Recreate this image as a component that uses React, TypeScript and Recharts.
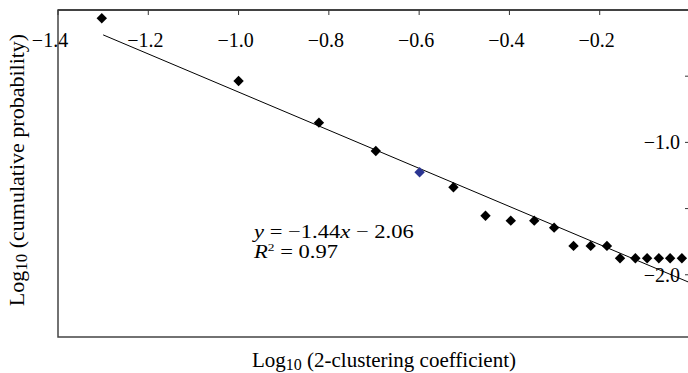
import React from 'react';
import { ScatterChart, Scatter, XAxis, YAxis, ReferenceArea, ReferenceLine } from 'recharts';

// Log10 (2-clustering coefficient) values of the plotted points
const clusteringLog = [-1.303, -1.0, -0.822, -0.696, -0.524, -0.453, -0.397, -0.345, -0.301, -0.258, -0.22, -0.184, -0.155, -0.121, -0.095, -0.069, -0.044, -0.018];
// Log10 (cumulative probability) values of the plotted points
const cumulativeLog = [-0.062, -0.536, -0.851, -1.065, -1.339, -1.554, -1.591, -1.591, -1.644, -1.782, -1.782, -1.782, -1.875, -1.875, -1.875, -1.875, -1.875, -1.875];
// the single highlighted (blue) point
const highlightX = [-0.599];
const highlightY = [-1.226];
// trend line y = -1.44x - 2.06 endpoints
const trendX = [-1.3, 0];
const trendY = [-0.188, -2.06];

const xTicks = [-1.4, -1.2, -1.0, -0.8, -0.6, -0.4, -0.2];
const yTicks = [-0.5, -1.0, -1.5, -2.0];
const yLabeled = [-1.0, -2.0];

const points = clusteringLog.map((x, i) => ({ x, y: cumulativeLog[i] }));
const highlight = highlightX.map((x, i) => ({ x, y: highlightY[i] }));
const trend = trendX.map((x, i) => ({ x, y: trendY[i] }));

const FONT = '"Liberation Serif", "Times New Roman", serif';
const fmt = (v: number) => (v < 0 ? '\u2212' : '') + Math.abs(v).toFixed(1);

const Diamond = (props: any) => {
  const { cx, cy, fill } = props;
  if (cx == null || cy == null) return null;
  const r = 5.2;
  return <path d={`M${cx},${cy - r}L${cx + r},${cy}L${cx},${cy + r}L${cx - r},${cy}Z`} fill={fill} />;
};

const XTick = (props: any) => {
  const { x, y, payload } = props;
  const shift = payload.value === -1.4 ? -8 : -3;
  return (
    <text x={x + shift} y={y + 32} textAnchor="middle" fontFamily={FONT} fontSize={20} fill="#000">
      {fmt(payload.value)}
    </text>
  );
};

const YTick = (props: any) => {
  const { x, y, payload } = props;
  if (!yLabeled.includes(payload.value)) return null;
  return (
    <text x={x} y={y + 7} textAnchor="end" fontFamily={FONT} fontSize={20} fill="#000">
      {fmt(payload.value)}
    </text>
  );
};

export default function App() {
  return (
    <div style={{ position: 'fixed', left: 0, top: 0, width: 688, height: 373, overflow: 'hidden', background: '#fff' }}>
      <ScatterChart width={700} height={373} margin={{ top: 10, right: 10, bottom: 36, left: 58 }}>
        <XAxis
          type="number"
          dataKey="x"
          orientation="top"
          mirror
          domain={[-1.4, 0]}
          ticks={xTicks}
          allowDataOverflow
          tickSize={5}
          tickMargin={0}
          axisLine={{ stroke: '#333', strokeWidth: 1.5 }}
          tickLine={{ stroke: '#333' }}
          tick={<XTick />}
        />
        <YAxis
          type="number"
          dataKey="y"
          orientation="right"
          mirror
          domain={[-2.47, 0]}
          ticks={yTicks}
          allowDataOverflow
          tickSize={5}
          tickMargin={5}
          axisLine={{ stroke: '#333', strokeWidth: 1.5 }}
          tickLine={{ stroke: '#333' }}
          tick={<YTick />}
        />
        <ReferenceArea x1={-1.4} x2={0} y1={-2.47} y2={0} fill="none" stroke="#444" strokeWidth={1.5} ifOverflow="visible" />
        <ReferenceLine segment={trend} stroke="#000" strokeWidth={1} ifOverflow="visible" />
        <Scatter data={points} fill="#000" shape={<Diamond />} isAnimationActive={false} />
        <Scatter data={highlight} fill="#2B3592" shape={<Diamond />} isAnimationActive={false} />
      </ScatterChart>
      <svg width={688} height={373} style={{ position: 'absolute', left: 0, top: 0, pointerEvents: 'none' }}>
        <g transform="translate(254,0) scale(1.22,1)">
          <text x={0} y={238} fontFamily={FONT} fontSize={18.5} fill="#000">
            <tspan fontStyle="italic">y</tspan> = {'\u2212'}1.44<tspan fontStyle="italic">x</tspan> {'\u2212'} 2.06
          </text>
          <text x={0} y={258.5} fontFamily={FONT} fontSize={18.5} fill="#000">
            <tspan fontStyle="italic">R</tspan>
            <tspan fontSize={11} dy={-7}>2</tspan>
            <tspan dy={7}> = 0.97</tspan>
          </text>
        </g>
        <text x={384} y={367} textAnchor="middle" fontFamily={FONT} fontSize={21} fill="#000">
          Log<tspan fontSize={16} dy={3}>10</tspan>
          <tspan dy={-3}> (2-clustering coefficient)</tspan>
        </text>
        <text x={24} y={170} transform="rotate(-90,24,170)" textAnchor="middle" fontFamily={FONT} fontSize={22} fill="#000">
          Log<tspan fontSize={17} dy={3}>10</tspan>
          <tspan dy={-3}> (cumulative probability)</tspan>
        </text>
      </svg>
    </div>
  );
}
